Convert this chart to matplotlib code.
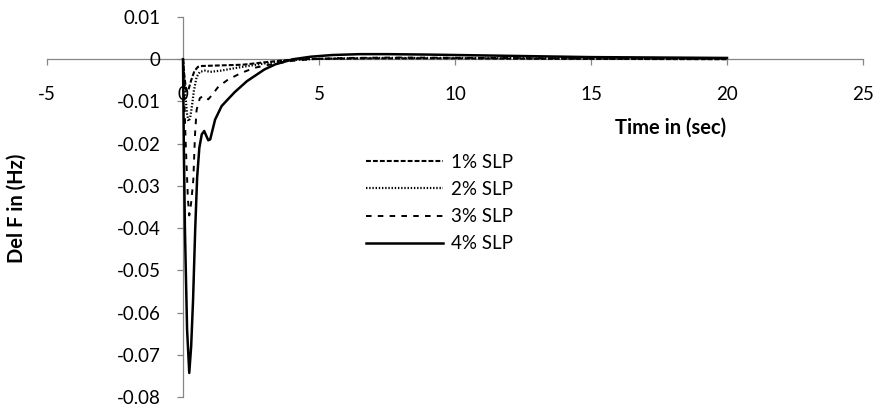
import matplotlib
matplotlib.use("Agg")
import matplotlib.pyplot as plt

plt.rcParams['font.family'] = ['Lato', 'DejaVu Sans']
plt.rcParams['axes.unicode_minus'] = False
plt.rcParams['lines.scale_dashes'] = False

# time (sec) and Del F (Hz)
t_1 = [0, 0.05, 0.12, 0.2, 0.3, 0.42, 0.55, 0.7, 1.2, 2.2, 2.9, 3.5, 4.2, 5, 7, 10, 14, 20]
f_1 = [0, -0.004, -0.0075, -0.0072, -0.005, -0.0028, -0.0018, -0.0016, -0.0015, -0.0013,
       -0.0008, -0.0004, 0.0, 0.0001, 0.0002, 0.0002, 0.0001, 0.0]

t_2 = [0, 0.08, 0.15, 0.2, 0.26, 0.32, 0.4, 0.5, 0.62, 0.8, 1.0, 1.4, 2.0, 2.6, 3.2, 4.0,
       5, 7, 10, 14, 20]
f_2 = [0, -0.008, -0.013, -0.0147, -0.014, -0.0115, -0.0075, -0.0042, -0.003, -0.0027,
       -0.003, -0.0027, -0.002, -0.0014, -0.0008, -0.0002, 0.0001, 0.0003, 0.0003, 0.0002, 0.0001]

t_3 = [0, 0.1, 0.18, 0.23, 0.3, 0.38, 0.44, 0.5, 0.62, 0.75, 0.93, 1.1, 1.3, 1.66, 2.16,
       2.65, 3.26, 4.0, 4.7, 6, 8, 11, 15, 20]
f_3 = [0, -0.02, -0.033, -0.037, -0.034, -0.0285, -0.018, -0.012, -0.0092, -0.0087, -0.0095,
       -0.0082, -0.0065, -0.0048, -0.0032, -0.002, -0.0012, -0.0004, 0.0, 0.0003, 0.0004,
       0.0003, 0.0002, 0.0001]

t_4 = [0, 0.03, 0.07, 0.15, 0.23, 0.3, 0.37, 0.45, 0.52, 0.6, 0.69, 0.78, 0.86, 0.93, 1.0,
       1.18, 1.42, 1.65, 1.9, 2.35, 3.0, 3.4, 4.05, 4.7, 5.5, 6.5, 7.5, 9, 11, 13, 15, 17.5, 20]
f_4 = [0, -0.02, -0.04, -0.064, -0.0743, -0.068, -0.057, -0.04, -0.028, -0.021, -0.0178,
       -0.017, -0.0182, -0.0192, -0.019, -0.0143, -0.0111, -0.0095, -0.0078, -0.0052, -0.0024,
       -0.0012, 0.0, 0.0006, 0.001, 0.0012, 0.0012, 0.0011, 0.0009, 0.0007, 0.0005, 0.0004, 0.0003]

labels = ['1% SLP', '2% SLP', '3% SLP', '4% SLP']
x_ticks = [-5, 0, 5, 10, 15, 20, 25]
y_ticks = [0.01, 0, -0.01, -0.02, -0.03, -0.04, -0.05, -0.06, -0.07, -0.08]
y_tick_labels = ['0.01', '0', '-0.01', '-0.02', '-0.03', '-0.04', '-0.05', '-0.06', '-0.07', '-0.08']

fig = plt.figure(figsize=(8.78, 4.08), dpi=100)
ax = fig.add_axes([47/878, 11/408, 816/878, 380/408])

ax.plot(t_1, f_1, color='black', lw=1.5, ls=(0, (3.5, 1.5)), label=labels[0])
ax.plot(t_2, f_2, color='black', lw=1.6, ls=(0, (1, 1.3)), label=labels[1])
ax.plot(t_3, f_3, color='black', lw=1.4, ls=(0, (4, 4.5)), label=labels[2])
ax.plot(t_4, f_4, color='black', lw=1.8, label=labels[3])

ax.set_xlim(-5, 25)
ax.set_ylim(-0.08, 0.01)
ax.set_xticks(x_ticks)
ax.set_yticks(y_ticks)
ax.set_yticklabels(y_tick_labels)

axis_col = '#868686'
for s in ['top', 'right']:
    ax.spines[s].set_visible(False)
ax.spines['left'].set_position(('data', 0))
ax.spines['bottom'].set_position(('data', 0))
for s in ['left', 'bottom']:
    ax.spines[s].set_color(axis_col)
    ax.spines[s].set_linewidth(0.9)
    ax.spines[s].set_zorder(0)

ax.tick_params(axis='x', direction='out', length=4, width=0.9, color=axis_col,
               labelsize=13.5, pad=15)
ax.tick_params(axis='y', direction='out', length=4, width=0.9, color=axis_col,
               labelsize=13.5, pad=12)
ax.patch.set_visible(False)

fig.text(671/878, 1 - 128/408, 'Time in (sec)', ha='center', va='center',
         fontsize=14.5, fontweight='bold')
fig.text(17/878, 1 - 208/408, 'Del F in (Hz)', ha='center', va='center',
         rotation=90, fontsize=14.5, fontweight='bold')

ax.legend(loc='center left', bbox_to_anchor=(357/878, 1 - 203/408),
          bbox_transform=fig.transFigure, frameon=False, fontsize=13.5,
          handlelength=4.1, handletextpad=0.4, labelspacing=0.55, borderpad=0)

fig.savefig('out.png', dpi=100)
